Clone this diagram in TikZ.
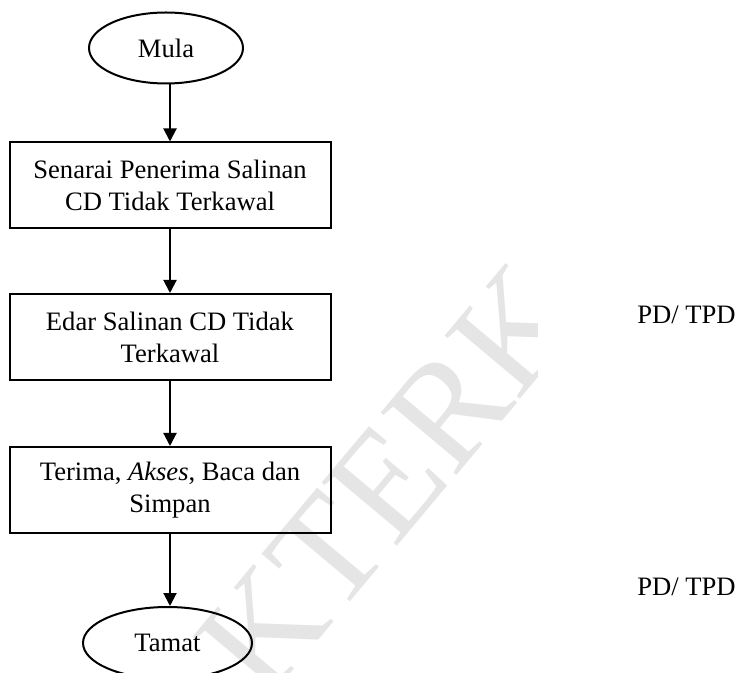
\documentclass[tikz,border=0pt]{standalone}
\usepackage{fontspec}
\setmainfont{Liberation Serif}
\usetikzlibrary{arrows.meta, shapes.geometric}

\tikzset{
    txt/.style={font=\fontsize{13.3}{16}\selectfont},
    flowbox/.style={txt, draw, line width=1pt, minimum width=160.5pt, minimum height=43pt, inner sep=0pt, align=center},
    terminal/.style={txt, ellipse, draw, line width=1pt, inner sep=0pt},
    flowarrow/.style={line width=1pt, -{Triangle[width=6.5pt, length=6.5pt]}},
    sidelabel/.style={txt, anchor=west, inner sep=0pt},
    watermark/.style={text=black!10, rotate=50, inner sep=0pt, font=\fontsize{75}{75}\selectfont}
}

\begin{document}
\begin{tikzpicture}[x=0.5pt, y=-0.5pt]
        \useasboundingbox (0, 0) rectangle (739, 673);
        % Watermark
        \begin{scope}
            \clip (0, 0) rectangle (537, 673);
            \node [watermark, anchor=base west] (wmb) at (335, 620) {TERKAWAL};
            \node [watermark, anchor=base east] (wma) at (335, 620) {TIDAK\ };
        \end{scope}
        % Steps
        \node [terminal, minimum width=77pt, minimum height=35.5pt] (mula) at (166, 48) {Mula};
        \node [flowbox] (senarai) at (170, 185.5) {Senarai Penerima Salinan\\CD Tidak Terkawal};
        \node [flowbox] (edar) at (170, 337) {Edar Salinan CD Tidak\\Terkawal};
        \node [flowbox] (terima) at (170, 490) {Terima, \textit{Akses}, Baca dan\\Simpan};
        \node [terminal, minimum width=84.5pt, minimum height=36pt] (tamat) at (167.5, 643) {Tamat};
        % Side labels
        \node [sidelabel] (pd1) at (637, 315) {PD/ TPD};
        \node [sidelabel] (pd2) at (637, 587) {PD/ TPD};
        % Arrows
        \draw [flowarrow] (senarai.north |- mula.south) -- (senarai.north);
        \draw [flowarrow] (senarai) -- (edar);
        \draw [flowarrow] (edar) -- (terima);
        \draw [flowarrow] (terima.south) -- (terima.south |- tamat.north);
\end{tikzpicture}
\end{document}
